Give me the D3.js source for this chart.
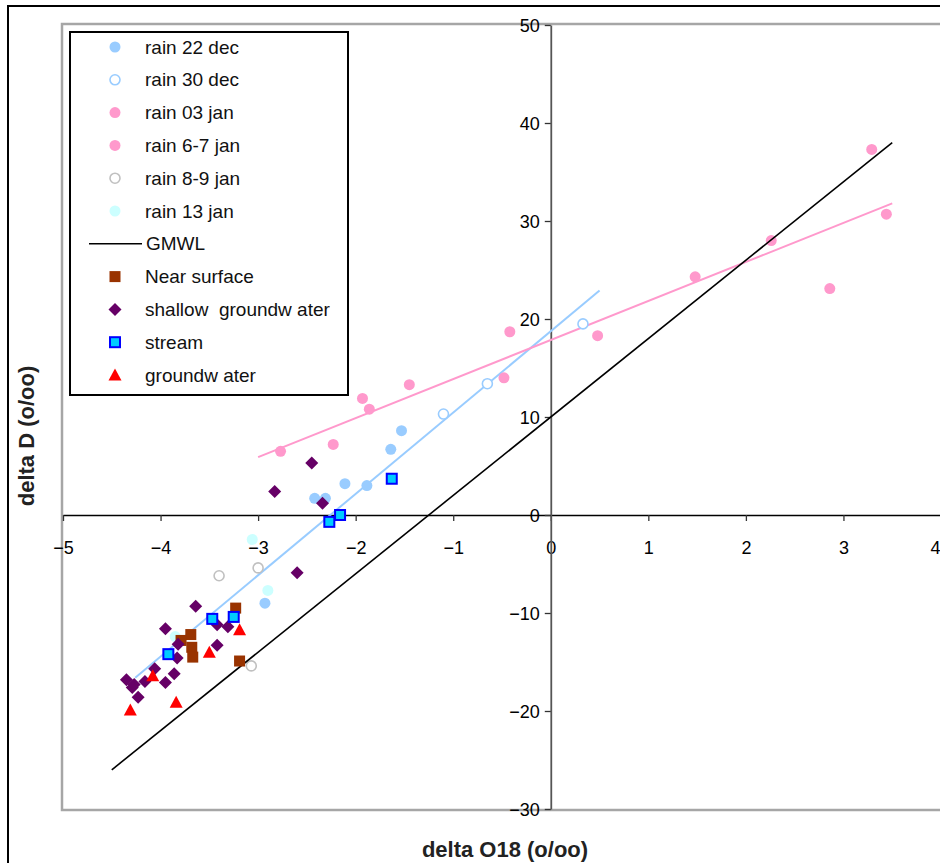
<!DOCTYPE html>
<html>
<head>
<meta charset="utf-8">
<script src="https://cdn.jsdelivr.net/npm/d3@7"></script>
<style>
  html, body { margin: 0; padding: 0; background: #fff; }
  svg { display: block; font-family: "Liberation Sans", Arial, sans-serif; }
  .lgtext { white-space: pre; }
</style>
</head>
<body>
<svg id="chart" width="940" height="863"></svg>
<script>
// ---- data (delta O18, delta D) ----
const xTicks = [-5, -4, -3, -2, -1, 0, 1, 2, 3, 4];
const yTicks = [-30, -20, -10, 0, 10, 20, 30, 40, 50];

const rain22dec = [[-1.53, 8.6], [-1.64, 6.7], [-1.885, 3.0], [-2.11, 3.2], [-2.42, 1.7], [-2.31, 1.7], [-2.93, -9.0]];
const rain30dec = [[0.33, 19.5], [-0.65, 13.4], [-1.10, 10.3]];
const rain03jan = [[-2.77, 6.5], [-2.23, 7.2], [-1.93, 11.9], [-1.86, 10.8], [-1.45, 13.3]];
const rain67jan = [[-0.48, 14.0], [-0.42, 18.7], [0.48, 18.3], [1.48, 24.3], [2.26, 28.0], [2.86, 23.1], [3.29, 37.3], [3.44, 30.7]];
const rain89jan = [[-3.40, -6.2], [-3.00, -5.4], [-3.07, -15.4]];
const rain13jan = [[-3.06, -2.5], [-2.90, -7.7], [-3.85, -12.4]];
const gmwl = [[-4.5, -26], [3.5, 38]];
const nearSurface = [[-3.23, -9.5], [-3.69, -12.2], [-3.79, -12.8], [-3.68, -13.5], [-3.67, -14.5], [-3.19, -14.9]];
const shallowGW = [[-2.45, 5.3], [-2.83, 2.4], [-2.34, 1.2], [-2.60, -5.9], [-3.64, -9.3], [-3.95, -11.6], [-3.42, -11.2], [-3.31, -11.4],
  [-3.82, -13.2], [-3.42, -13.3], [-3.83, -14.6], [-3.86, -16.2], [-3.95, -17.1], [-4.06, -15.7], [-4.16, -17.0], [-4.35, -16.8],
  [-4.29, -17.6], [-4.23, -18.6], [-4.27, -17.3]];
const stream = [[-1.63, 3.7], [-2.16, 0.0], [-2.27, -0.7], [-3.47, -10.6], [-3.25, -10.4], [-3.92, -14.2]];
const groundwater = [[-3.19, -11.7], [-3.50, -14.0], [-4.08, -16.4], [-3.84, -19.1], [-4.31, -19.9]];

// trendlines (endpoints)
const trendPink = [[-3.0, 5.9], [3.5, 31.8]];
const trendBlue = [[-4.26, -16.6], [0.5, 22.9]];

const legendLabels = ["rain 22 dec", "rain 30 dec", "rain 03 jan", "rain 6-7 jan", "rain 8-9 jan", "rain 13 jan",
  "GMWL", "Near surface", "shallow  groundw ater", "stream", "groundw ater"];

// ---- styles ----
const styles = {
  rain22dec: { type: "circle", fill: "#99CCFF", stroke: "none" },
  rain30dec: { type: "open", fill: "#fff", stroke: "#99CCFF" },
  rain03jan: { type: "circle", fill: "#FF99CC", stroke: "none" },
  rain67jan: { type: "circle", fill: "#FF99CC", stroke: "none" },
  rain89jan: { type: "open", fill: "#fff", stroke: "#C0C0C0" },
  rain13jan: { type: "circle", fill: "#CCFFFF", stroke: "none" },
  gmwl: { type: "line", stroke: "#000" },
  nearSurface: { type: "square", fill: "#993300", stroke: "none" },
  shallowGW: { type: "diamond", fill: "#660066", stroke: "none" },
  stream: { type: "stream", fill: "#00CCFF", stroke: "#0000FF" },
  groundwater: { type: "triangle", fill: "#FF0000", stroke: "none" }
};

const svg = d3.select("#chart");
const x = d3.scaleLinear().domain([-5, 4]).range([63, 941]);
const y = d3.scaleLinear().domain([-30, 50]).range([809, 25]);

// outer border
svg.append("rect").attr("x", 8).attr("y", 6).attr("width", 1000).attr("height", 1000)
  .attr("fill", "#fff").attr("stroke", "#000").attr("stroke-width", 2);

// plot area border
svg.append("rect").attr("x", x(-5) - 1).attr("y", y(50) - 1)
  .attr("width", x(4) - x(-5) + 2).attr("height", y(-30) - y(50) + 2)
  .attr("fill", "#fff").attr("stroke", "#a6a6a6").attr("stroke-width", 2.5);

// axes
const xAxis = svg.append("g").attr("transform", `translate(0,${y(0)})`)
  .call(d3.axisBottom(x).tickValues(xTicks).tickSize(6).tickSizeOuter(0).tickFormat(d3.format("d")));
xAxis.select(".domain").attr("stroke", "#000").attr("stroke-width", 1.6);
xAxis.selectAll(".tick line").attr("stroke", "#333").attr("stroke-width", 1.3);
xAxis.selectAll(".tick text").attr("y", 33).attr("dy", "0.35em")
  .attr("font-size", 18).attr("font-family", "Liberation Sans, Arial, sans-serif").attr("fill", "#000")
  .attr("text-anchor", d => d === 4 ? "end" : "middle")
  .attr("x", d => d === 4 ? -1 : 0);

const yAxis = svg.append("g").attr("transform", `translate(${x(0)},0)`)
  .call(d3.axisLeft(y).tickValues(yTicks).tickSize(6).tickSizeOuter(0).tickFormat(d3.format("d")));
yAxis.select(".domain").attr("stroke", "#555").attr("stroke-width", 1.8);
yAxis.selectAll(".tick line").attr("stroke", "#333").attr("stroke-width", 1.3);
yAxis.selectAll(".tick text").attr("x", -11).attr("dy", "0.35em")
  .attr("font-size", 18).attr("font-family", "Liberation Sans, Arial, sans-serif").attr("fill", "#000");

// axis titles
svg.append("text").attr("x", 505).attr("y", 849).attr("dy", "0.35em")
  .attr("text-anchor", "middle").attr("font-weight", "bold").attr("font-size", 22)
  .attr("fill", "#222").text("delta O18 (o/oo)");
svg.append("text").attr("transform", "translate(26,436) rotate(-90)").attr("dy", "0.35em")
  .attr("text-anchor", "middle").attr("font-weight", "bold").attr("font-size", 22)
  .attr("fill", "#222").text("delta D (o/oo)");

const line = d3.line().x(d => x(d[0])).y(d => y(d[1]));

// trendlines
svg.append("path").datum(trendBlue).attr("d", line).attr("stroke", "#99CCFF").attr("stroke-width", 2).attr("fill", "none");
svg.append("path").datum(trendPink).attr("d", line).attr("stroke", "#FF99CC").attr("stroke-width", 2).attr("fill", "none");

function drawMarker(g, st) {
  if (st.type === "circle") {
    g.append("circle").attr("r", 5.5).attr("fill", st.fill);
  } else if (st.type === "open") {
    g.append("circle").attr("r", 5).attr("fill", st.fill).attr("stroke", st.stroke).attr("stroke-width", 1.6);
  } else if (st.type === "square") {
    g.append("rect").attr("x", -5.5).attr("y", -5.5).attr("width", 11).attr("height", 11).attr("fill", st.fill);
  } else if (st.type === "diamond") {
    g.append("path").attr("d", "M0,-6.5L6.5,0L0,6.5L-6.5,0Z").attr("fill", st.fill);
  } else if (st.type === "stream") {
    g.append("rect").attr("x", -5).attr("y", -5).attr("width", 10).attr("height", 10)
      .attr("fill", st.fill).attr("stroke", st.stroke).attr("stroke-width", 2);
  } else if (st.type === "triangle") {
    g.append("path").attr("d", "M0,-6.5L6.5,5.5L-6.5,5.5Z").attr("fill", st.fill);
  }
}

function drawSeries(data, st) {
  const g = svg.append("g");
  if (st.type === "line") {
    g.append("path").datum(data).attr("d", line).attr("stroke", st.stroke).attr("stroke-width", 1.6).attr("fill", "none");
    return;
  }
  g.selectAll("g").data(data).join("g")
    .attr("transform", d => `translate(${x(d[0])},${y(d[1])})`)
    .each(function () { drawMarker(d3.select(this), st); });
}

const seriesOrder = [
  [rain22dec, styles.rain22dec], [rain30dec, styles.rain30dec], [rain03jan, styles.rain03jan],
  [rain67jan, styles.rain67jan], [rain89jan, styles.rain89jan], [rain13jan, styles.rain13jan],
  [gmwl, styles.gmwl], [nearSurface, styles.nearSurface], [shallowGW, styles.shallowGW],
  [stream, styles.stream], [groundwater, styles.groundwater]
];
seriesOrder.forEach(([d, st]) => drawSeries(d, st));

// legend
const lg = svg.append("g");
lg.append("rect").attr("x", 70).attr("y", 32).attr("width", 278).attr("height", 363)
  .attr("fill", "#fff").attr("stroke", "#000").attr("stroke-width", 2);
seriesOrder.forEach(([d, st], i) => {
  const cy = 47 + i * 32.8;
  const g = lg.append("g").attr("transform", `translate(115,${cy})`);
  if (st.type === "line") {
    lg.append("line").attr("x1", 89).attr("x2", 142).attr("y1", cy).attr("y2", cy)
      .attr("stroke", "#000").attr("stroke-width", 1.6);
  } else {
    drawMarker(g, st);
  }
  lg.append("text").attr("class", "lgtext").attr("xml:space", "preserve")
    .attr("x", st.type === "line" ? 146 : 145).attr("y", cy).attr("dy", "0.35em")
    .attr("font-size", 19).attr("fill", "#111").text(legendLabels[i]);
});
</script>
</body>
</html>
